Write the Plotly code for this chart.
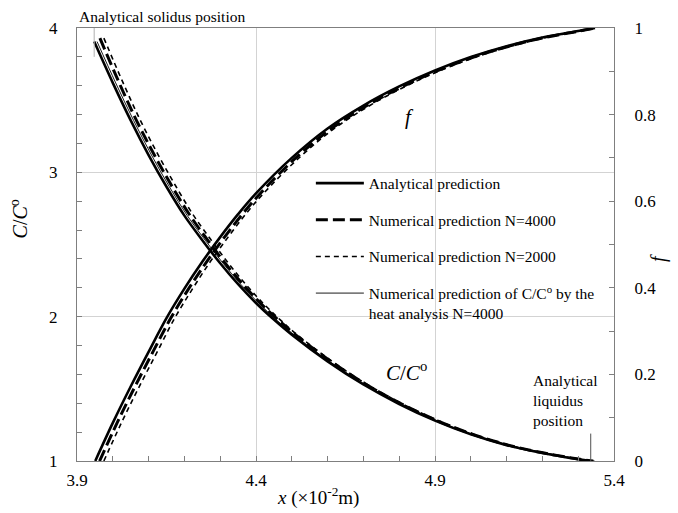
import plotly.graph_objects as go

# ---------------- data ----------------
# f curves (right axis)
f_levels = [0, 0.088, 0.172, 0.252, 0.33, 0.398, 0.46, 0.517, 0.570, 0.618,
            0.700, 0.768, 0.821, 0.865, 0.902, 0.933, 0.958, 0.978, 0.993, 1.0]
x_f_analytical = [3.951, 4.00, 4.05, 4.10, 4.15, 4.20, 4.25, 4.30, 4.35, 4.40,
                  4.50, 4.60, 4.70, 4.80, 4.90, 5.00, 5.10, 5.20, 5.30, 5.347]
x_f_n4000 = [3.963, 4.012, 4.062, 4.112, 4.162, 4.212, 4.262, 4.312, 4.362, 4.412,
             4.511, 4.611, 4.710, 4.810, 4.909, 5.008, 5.107, 5.206, 5.304, 5.349]
x_f_n2000 = [3.975, 4.024, 4.074, 4.124, 4.173, 4.223, 4.272, 4.322, 4.371, 4.421,
             4.520, 4.619, 4.718, 4.817, 4.916, 5.015, 5.113, 5.211, 5.307, 5.350]

# C/C0 curves (left axis)
c_values = [3.906, 3.62, 3.36, 3.12, 2.90, 2.70, 2.53, 2.37, 2.225, 2.095, 1.98,
            1.875, 1.69, 1.53, 1.395, 1.28, 1.185, 1.11, 1.055, 1.012, 1.0]
c_values_num = [3.93, 3.63, 3.36, 3.12, 2.90, 2.70, 2.53, 2.37, 2.225, 2.095, 1.98,
                1.875, 1.69, 1.53, 1.395, 1.28, 1.185, 1.11, 1.055, 1.012, 1.0]
x_c_analytical = [3.948, 4.00, 4.05, 4.10, 4.15, 4.20, 4.25, 4.30, 4.35, 4.40, 4.45,
                  4.50, 4.60, 4.70, 4.80, 4.90, 5.00, 5.10, 5.20, 5.30, 5.335]
x_c_heat = [3.956, 4.008, 4.058, 4.108, 4.158, 4.208, 4.258, 4.308, 4.357, 4.407, 4.456,
            4.506, 4.605, 4.705, 4.804, 4.904, 5.003, 5.103, 5.202, 5.302, 5.337]
x_c_n4000 = [3.964, 4.016, 4.066, 4.116, 4.166, 4.216, 4.265, 4.314, 4.363, 4.412, 4.461,
             4.510, 4.609, 4.708, 4.807, 4.906, 5.006, 5.105, 5.205, 5.305, 5.342]
x_c_n2000 = [3.975, 4.027, 4.077, 4.127, 4.177, 4.226, 4.275, 4.323, 4.371, 4.419, 4.467,
             4.515, 4.613, 4.711, 4.810, 4.909, 5.008, 5.107, 5.207, 5.307, 5.345]

solidus_x = 3.948
liquidus_x = 5.335

x_ticks = [3.9, 4.4, 4.9, 5.4]
c_ticks = [1, 2, 3, 4]
f_ticks = [0, 0.2, 0.4, 0.6, 0.8, 1.0]

legend_names = ["Analytical prediction",
                "Numerical prediction N=4000",
                "Numerical prediction N=2000",
                "Numerical prediction of C/C<sup>o</sup> by the<br>heat analysis N=4000"]

FONT = "Liberation Serif"

fig = go.Figure()

styles = [dict(width=2.6, color="black"),
          dict(width=3.0, color="black", dash="12px,5px"),
          dict(width=1.6, color="black", dash="5px,4px"),
          dict(width=0.9, color="black")]

# Analytical
fig.add_trace(go.Scatter(x=x_f_analytical, y=f_levels, yaxis="y2", mode="lines",
                         line=dict(**styles[0], shape="spline"), name=legend_names[0],
                         legendgroup="a"))
fig.add_trace(go.Scatter(x=x_c_analytical, y=c_values, mode="lines",
                         line=dict(**styles[0], shape="spline"), name=legend_names[0],
                         legendgroup="a", showlegend=False))
# N=4000
fig.add_trace(go.Scatter(x=x_f_n4000, y=f_levels, yaxis="y2", mode="lines",
                         line=dict(**styles[1], shape="spline"), name=legend_names[1],
                         legendgroup="b"))
fig.add_trace(go.Scatter(x=x_c_n4000, y=c_values_num, mode="lines",
                         line=dict(**styles[1], shape="spline"), name=legend_names[1],
                         legendgroup="b", showlegend=False))
# N=2000
fig.add_trace(go.Scatter(x=x_f_n2000, y=f_levels, yaxis="y2", mode="lines",
                         line=dict(**styles[2], shape="spline"), name=legend_names[2],
                         legendgroup="c"))
fig.add_trace(go.Scatter(x=x_c_n2000, y=c_values_num, mode="lines",
                         line=dict(**styles[2], shape="spline"), name=legend_names[2],
                         legendgroup="c", showlegend=False))
# heat analysis
fig.add_trace(go.Scatter(x=x_c_heat, y=c_values, mode="lines",
                         line=dict(**styles[3], shape="spline"), name=legend_names[3],
                         legendgroup="d"))

axis_common = dict(showline=True, linecolor="#7f7f7f", linewidth=1,
                   ticks="inside", ticklen=5, tickcolor="#7f7f7f", automargin=False,
                   tickfont=dict(family=FONT, size=17, color="black"), zeroline=False)

fig.update_layout(
    width=678, height=513,
    margin=dict(l=77, r=64, t=28, b=52),
    plot_bgcolor="white", paper_bgcolor="white",
    font=dict(family=FONT, color="black"),
    xaxis=dict(range=[3.9, 5.4], tickvals=x_ticks, ticktext=[str(v) for v in x_ticks],
               showgrid=True, gridcolor="#d3d3d3", gridwidth=1, mirror=True,
               minor=dict(dtick=0.1, tick0=3.9, ticks="inside", ticklen=5,
                          tickcolor="#7f7f7f", showgrid=False),
               ticklabelstandoff=4, **axis_common),
    yaxis=dict(range=[1, 4], tickvals=c_ticks, showgrid=True, gridcolor="#d3d3d3",
               gridwidth=1, mirror=True,
               minor=dict(dtick=0.2, tick0=1, ticks="inside", ticklen=5,
                          tickcolor="#7f7f7f", showgrid=False),
               ticklabelstandoff=15, **axis_common),
    yaxis2=dict(range=[0, 1], tickvals=f_ticks, ticktext=["0", "0.2", "0.4", "0.6", "0.8", "1"],
                overlaying="y", side="right", showgrid=False,
                minor=dict(dtick=0.1, tick0=0, ticks="inside", ticklen=5,
                           tickcolor="#7f7f7f", showgrid=False),
                ticklabelstandoff=16, **axis_common),
    legend=dict(x=0.4355, y=0.68, xanchor="left", yanchor="top",
                bgcolor="rgba(0,0,0,0)", font=dict(family=FONT, size=15.5),
                tracegroupgap=13.5, valign="top", itemwidth=48),
    showlegend=True,
)

# Axis titles
fig.add_annotation(text="<i>x</i> (×10<sup>-2</sup>m)", xref="paper", yref="paper",
                   x=0.449, y=-0.115, showarrow=False, font=dict(family=FONT, size=19))
fig.add_annotation(text="<i>C</i>/<i>C</i><sup>o</sup>", xref="paper", yref="paper",
                   x=-0.135, y=0.559, textangle=-90, showarrow=False,
                   font=dict(family=FONT, size=20))
fig.add_annotation(text="<i>f</i>", xref="paper", yref="paper",
                   x=1.108, y=0.47, textangle=-90, showarrow=False,
                   font=dict(family=FONT, size=20))

# Curve labels
fig.add_annotation(text="<i>f</i>", x=4.83, y=0.795, yref="y2", showarrow=False,
                   font=dict(family=FONT, size=21))
fig.add_annotation(text="<i>C</i>/<i>C</i><sup>o</sup>", x=4.82, y=1.62, showarrow=False,
                   font=dict(family=FONT, size=21))

# Solidus / liquidus markers
fig.add_shape(type="line", x0=solidus_x, x1=solidus_x, y0=3.8, y1=4.0,
              line=dict(color="#b0b0b0", width=1))
fig.add_annotation(text="Analytical solidus position", xref="paper", yref="paper",
                   x=0.0, y=1.0, xanchor="left", yanchor="bottom", yshift=1,
                   showarrow=False, font=dict(family=FONT, size=15.5))
fig.add_shape(type="line", x0=liquidus_x, x1=liquidus_x, y0=1.0, y1=1.19,
              line=dict(color="#505050", width=1))
fig.add_annotation(text="Analytical<br>liquidus<br>position", x=liquidus_x, y=1.19,
                   xanchor="left", yanchor="bottom", align="left", xshift=-60, yshift=3,
                   showarrow=False, font=dict(family=FONT, size=15.5))

fig.write_html("out.html")
